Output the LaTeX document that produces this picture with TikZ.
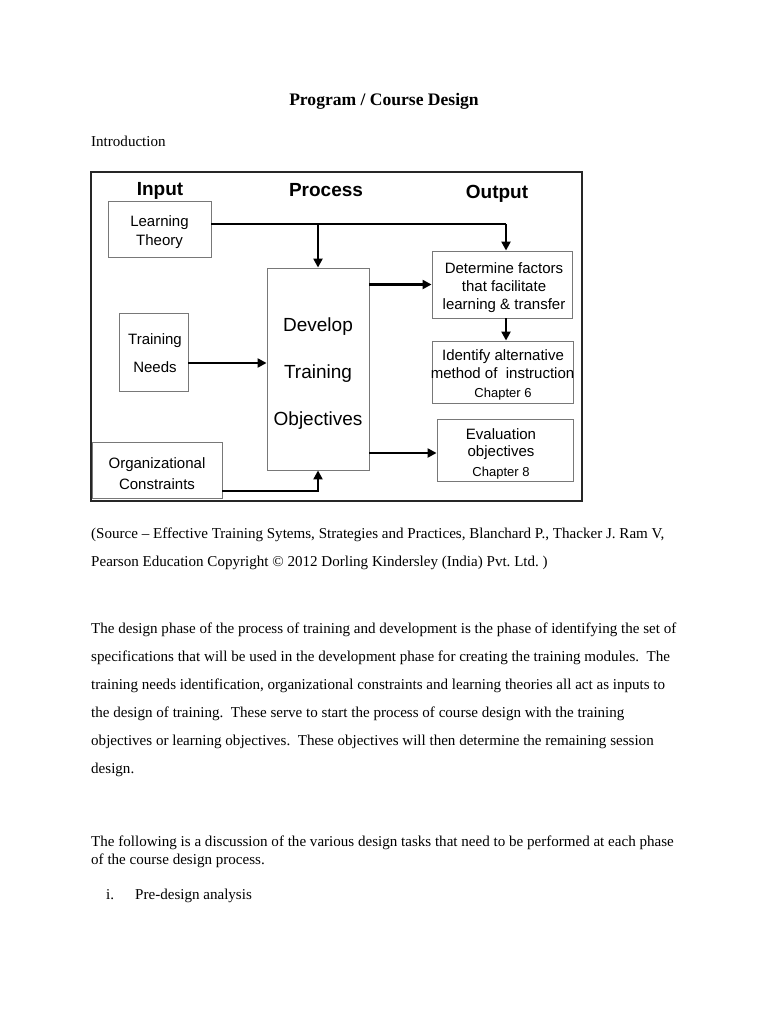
\documentclass[tikz,border=0pt]{standalone}
\usepackage{fontspec}
\setmainfont{Liberation Serif}
\newfontfamily\arial{Liberation Sans}
\usetikzlibrary{arrows.meta}
\definecolor{boxgray}{RGB}{120,120,120}
\tikzset{
  box/.style={draw=boxgray, line width=0.9pt, inner sep=0pt, fill=white},
  frame/.style={draw=black!85, line width=1.2pt},
  arr/.style={line width=2.5pt, -{Triangle[length=9pt,width=9pt]}},
  ln/.style={line width=2.5pt},
  dtxt/.style={anchor=base, inner sep=0pt, font=\arial\fontsize{15}{18}\selectfont},
  dbig/.style={anchor=base, inner sep=0pt, font=\arial\fontsize{19}{22}\selectfont},
  dhead/.style={anchor=base, inner sep=0pt, font=\arial\bfseries\fontsize{19}{22}\selectfont},
  dsmall/.style={anchor=base, inner sep=0pt, font=\arial\fontsize{13}{15}\selectfont},
  body/.style={anchor=base west, inner sep=0pt, font=\fontsize{15.06}{18}\selectfont},
  title/.style={anchor=base, inner sep=0pt, font=\bfseries\fontsize{17.57}{21}\selectfont},
}
\begin{document}
\frenchspacing
\begin{tikzpicture}[x=1pt,y=-1pt]
\useasboundingbox[fill=white] (0,0) rectangle (768,1024);

% document text
\node[title] (title) at (384,106) {Program / Course Design};
\node[body] (intro) at (91,147) {Introduction};

% frame
\node[frame, inner sep=0pt, minimum width=491, minimum height=329] (frame) at (336.5,336.5) {};

% headings
\node[dhead] (hin) at (160,196) {Input};
\node[dhead] (hpr) at (326,197) {Process};
\node[dhead] (hout) at (497,199) {Output};

% boxes
\node[box, minimum width=103, minimum height=56] (lt) at (159.5,229) {};
\node[box, minimum width=69, minimum height=78] (tn) at (153.5,352) {};
\node[box, minimum width=130, minimum height=56] (oc) at (157,470) {};
\node[box, minimum width=102, minimum height=202] (dev) at (318,369) {};
\node[box, minimum width=140, minimum height=67] (det) at (502,284.5) {};
\node[box, minimum width=141, minimum height=62] (idf) at (502.5,372) {};
\node[box, minimum width=136, minimum height=62] (eval) at (505,450) {};

% box texts
\node[dtxt] (lt1) at (159.5,226.5) {Learning};
\node[dtxt] (lt2) at (159.5,245.5) {Theory};
\node[dtxt] (tn1) at (155,344.5) {Training};
\node[dtxt] (tn2) at (155,372.5) {Needs};
\node[dtxt] (oc1) at (157,468.5) {Organizational};
\node[dtxt] (oc2) at (157,489.5) {Constraints};
\node[dbig] (dv1) at (318,331) {Develop};
\node[dbig] (dv2) at (318,378) {Training};
\node[dbig] (dv3) at (318,425) {Objectives};
\node[dtxt] (de1) at (504,273.5) {Determine factors};
\node[dtxt] (de2) at (504,291.5) {that facilitate};
\node[dtxt] (de3) at (504,309.5) {learning \& transfer};
\node[dtxt] (id1) at (503,360.5) {Identify alternative};
\node[dtxt] (id2) at (502.5,378.5) {method of\ \ instruction};
\node[dsmall] (id3) at (503,397.5) {Chapter 6};
\node[dtxt] (ev1) at (501,439.5) {Evaluation};
\node[dtxt] (ev2) at (501,456.5) {objectives};
\node[dsmall] (ev3) at (501,476.5) {Chapter 8};

% connectors
\coordinate (jr) at (506,224);
\draw[ln] (lt.east |- jr) -- (jr);
\draw[arr] (jr) -- (jr |- det.north);
\draw[arr] (jr -| dev.north) -- (dev.north);
\draw[arr] (dev.east |- det.west) -- (det.west);
\draw[arr] ([xshift=4pt]det.south) -- ([xshift=4pt]det.south |- idf.north);
\draw[arr] ([yshift=-11pt]tn.east) -- ([yshift=-11pt]tn.east -| dev.west);
\draw[arr] ([yshift=-3pt]dev.east |- eval.west) -- ([yshift=-3pt]eval.west);
\draw[arr] ([yshift=-21pt]oc.east) -| (dev.south);

% source
\node[body] (src1) at (91,538) {(Source -- Effective Training Sytems, Strategies and Practices, Blanchard P., Thacker J. Ram V,};
\node[body] (src2) at (91,566) {Pearson Education Copyright © 2012 Dorling Kindersley (India) Pvt. Ltd. )};

% paragraph
\node[body] (p1) at (91,633) {The design phase of the process of training and development is the phase of identifying the set of};
\node[body] (p2) at (91,661) {specifications that will be used in the development phase for creating the training modules.\ \ The};
\node[body] (p3) at (91,689) {training needs identification, organizational constraints and learning theories all act as inputs to};
\node[body] (p4) at (91,717) {the design of training.\ \ These serve to start the process of course design with the training};
\node[body] (p5) at (91,745) {objectives or learning objectives.\ \ These objectives will then determine the remaining session};
\node[body] (p6) at (91,773) {design.};

\node[body] (f1) at (91,846) {The following is a discussion of the various design tasks that need to be performed at each phase};
\node[body] (f2) at (91,864) {of the course design process.};
\node[body] (li) at (106,899) {i.};
\node[body] (lt3) at (135,899) {Pre-design analysis};
\end{tikzpicture}
\end{document}
